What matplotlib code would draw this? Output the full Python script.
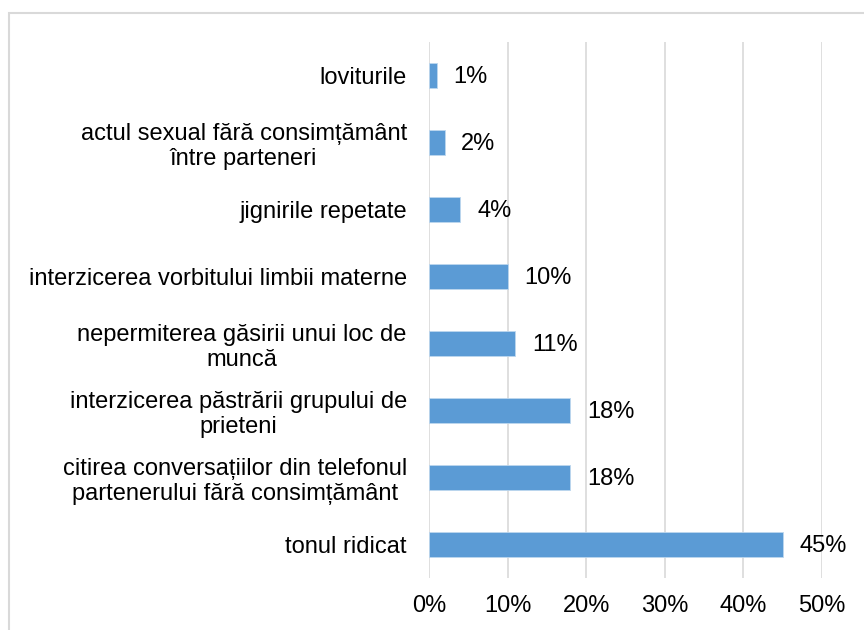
import matplotlib.pyplot as plt
from matplotlib.patches import Rectangle
from matplotlib.ticker import FuncFormatter

plt.rcParams['font.family'] = ['Liberation Sans', 'DejaVu Sans']

categories = [
    'tonul ridicat',
    'citirea conversațiilor din telefonul\npartenerului fără consimțământ',
    'interzicerea păstrării grupului de\nprieteni',
    'nepermiterea găsirii unui loc de\nmuncă',
    'interzicerea vorbitului limbii materne',
    'jignirile repetate',
    'actul sexual fără consimțământ\nîntre parteneri',
    'loviturile',
]
values = [45, 18, 18, 11, 10, 4, 2, 1]
xticks = [0, 10, 20, 30, 40, 50]

fig = plt.figure(figsize=(8.64, 6.3), dpi=100)
ax = fig.add_axes([0.4965, 0.0825, 0.4549, 0.8508])

# outer frame of the chart area (cropped on right and bottom)
fig.patches.append(Rectangle((9 / 864, -0.1), 1.2, 1 - 13 / 630 + 0.1,
                             transform=fig.transFigure, fill=False,
                             edgecolor='#D9D9D9', linewidth=1.5))

y = range(len(categories))
ax.barh(y, values, height=0.36, color='#5B9BD5',
        edgecolor='#BDD7EE', linewidth=0.6, zorder=3)

for yi, v in zip(y, values):
    ax.annotate(f'{v}%', (v, yi), xytext=(12, -1), textcoords='offset points',
                va='center', ha='left', fontsize=17, color='black')

ax.set_xlim(0, 50)
ax.set_ylim(-0.5, len(categories) - 0.5)
ax.set_xticks(xticks)
ax.xaxis.set_major_formatter(FuncFormatter(lambda v, p: f'{v:.0f}%'))
ax.set_yticks(list(y))
ax.set_yticklabels(categories, fontsize=17, ha='right',
                   multialignment='center', linespacing=1.2)
ax.tick_params(axis='y', length=0, pad=16)
ax.tick_params(axis='x', length=0, pad=12, labelsize=17)

ax.grid(axis='x', color='#D9D9D9', linewidth=1.2, zorder=0)
for s in ['top', 'right', 'bottom', 'left']:
    ax.spines[s].set_visible(False)

fig.savefig('out.png', dpi=100)
